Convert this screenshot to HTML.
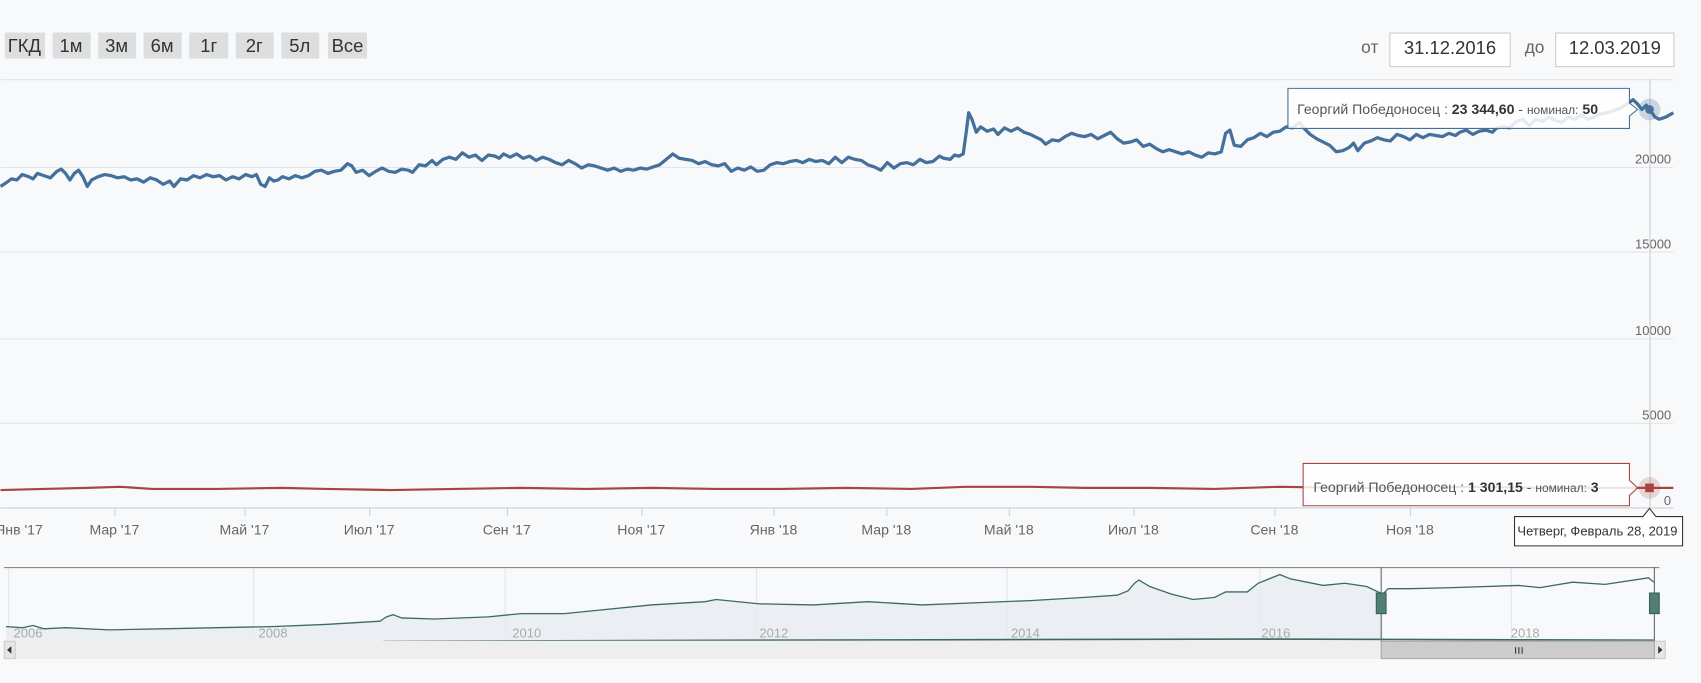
<!DOCTYPE html>
<html><head><meta charset="utf-8"><style>
html,body{margin:0;padding:0;background:#f8f9fb;}
svg{display:block;font-family:"Liberation Sans",sans-serif;}
</style></head><body>
<svg width="1701" height="683" viewBox="0 0 1568 630" xmlns="http://www.w3.org/2000/svg">
<rect width="1568" height="630" fill="#f8f9fb"/>
<g font-size="17" fill="#333" text-anchor="middle">
<rect x="4" y="30" width="37" height="24" fill="#dcdee0"/><text x="22" y="48">ГКД</text>
<rect x="48" y="30" width="35" height="24" fill="#dcdee0"/><text x="65" y="48">1м</text>
<rect x="90" y="30" width="35" height="24" fill="#dcdee0"/><text x="107" y="48">3м</text>
<rect x="132" y="30" width="35" height="24" fill="#dcdee0"/><text x="149" y="48">6м</text>
<rect x="174" y="30" width="36" height="24" fill="#dcdee0"/><text x="192" y="48">1г</text>
<rect x="217" y="30" width="35" height="24" fill="#dcdee0"/><text x="234" y="48">2г</text>
<rect x="259" y="30" width="35" height="24" fill="#dcdee0"/><text x="276" y="48">5л</text>
<rect x="302" y="30" width="36" height="24" fill="#dcdee0"/><text x="320" y="48">Все</text>
</g>
<text x="1263" y="49" font-size="16" fill="#666" text-anchor="middle">от</text>
<rect x="1281.5" y="30.5" width="111" height="31" fill="#fff" stroke="#ccc"/>
<text x="1337" y="50" font-size="17" fill="#333" text-anchor="middle">31.12.2016</text>
<text x="1415" y="49" font-size="16" fill="#666" text-anchor="middle">до</text>
<rect x="1434.5" y="30.5" width="109" height="31" fill="#fff" stroke="#ccc"/>
<text x="1489" y="50" font-size="17" fill="#333" text-anchor="middle">12.03.2019</text>
<g stroke="#e3e5e8" stroke-width="1">
<line x1="0" y1="73.5" x2="1543" y2="73.5"/>
<line x1="0" y1="154.5" x2="1543" y2="154.5"/>
<line x1="0" y1="232.5" x2="1543" y2="232.5"/>
<line x1="0" y1="312.5" x2="1543" y2="312.5"/>
<line x1="0" y1="390.5" x2="1543" y2="390.5"/>
</g>
<line x1="0" y1="468.5" x2="1543" y2="468.5" stroke="#ccd2d8"/>
<g font-size="12" fill="#666" text-anchor="end">
<text x="1541" y="151">20000</text><text x="1541" y="229">15000</text><text x="1541" y="309">10000</text><text x="1541" y="387">5000</text><text x="1541" y="466">0</text>
</g>
<g font-size="13" fill="#666" text-anchor="middle">
<text x="17" y="493">Янв '17</text><text x="105" y="493">Мар '17</text><text x="225" y="493">Май '17</text><text x="340" y="493">Июл '17</text><text x="467" y="493">Сен '17</text><text x="591" y="493">Ноя '17</text><text x="713" y="493">Янв '18</text><text x="817" y="493">Мар '18</text><text x="930" y="493">Май '18</text><text x="1045" y="493">Июл '18</text><text x="1175" y="493">Сен '18</text><text x="1300" y="493">Ноя '18</text>
</g>
<g stroke="#ccd2d8"><line x1="105.5" y1="469" x2="105.5" y2="476"/><line x1="225.5" y1="469" x2="225.5" y2="476"/><line x1="340.5" y1="469" x2="340.5" y2="476"/><line x1="467.5" y1="469" x2="467.5" y2="476"/><line x1="591.5" y1="469" x2="591.5" y2="476"/><line x1="713.5" y1="469" x2="713.5" y2="476"/><line x1="817.5" y1="469" x2="817.5" y2="476"/><line x1="930.5" y1="469" x2="930.5" y2="476"/><line x1="1045.5" y1="469" x2="1045.5" y2="476"/><line x1="1175.5" y1="469" x2="1175.5" y2="476"/><line x1="1300.5" y1="469" x2="1300.5" y2="476"/></g>
<line x1="1521.5" y1="73" x2="1521.5" y2="475" stroke="#ccc"/>
<path fill="none" stroke="#44709c" stroke-width="3" stroke-linejoin="round" d="M0 172L6 168L10 165L15 166L20 161L26 163L30 165L34 160L40 162L46 164L52 158L56 156L60 160L64 166L68 160L72 157L76 163L80 172L84 166L90 163L96 161L102 162L108 164L114 163L120 166L126 165L132 168L138 164L144 166L150 170L156 167L160 172L166 165L172 166L178 162L184 164L190 161L196 163L202 162L208 166L214 163L220 165L226 161L232 163L236 161L240 170L244 172L248 164L252 167L256 166L260 163L266 165L272 162L278 164L284 162L290 158L296 157L302 160L308 158L314 157L320 151L324 153L328 159L334 157L340 162L346 158L352 155L358 158L364 159L370 156L376 157L380 159L386 152L392 153L398 148L402 152L408 147L414 145L420 147L426 141L432 145L438 143L444 148L450 143L456 144L460 146L464 142L470 145L476 142L482 146L488 144L494 148L500 145L506 147L512 150L518 152L524 148L530 151L536 155L542 152L548 153L554 155L560 157L566 155L572 158L578 156L584 157L590 155L596 156L602 154L608 152L614 147L620 142L626 146L632 147L638 148L644 151L650 149L656 152L662 153L668 151L674 158L680 155L686 157L692 154L698 158L704 157L710 152L716 150L722 151L728 149L734 148L740 150L746 147L752 149L758 148L764 151L770 145L776 150L782 145L788 147L794 148L800 152L806 154L812 157L818 150L824 155L830 151L836 150L842 152L848 147L854 150L860 149L866 144L870 146L876 147L880 143L884 144L888 142L891 120L893 104L896 110L900 122L904 117L910 121L916 119L920 124L926 118L932 121L938 118L944 122L950 124L956 127L960 129L964 133L970 129L976 130L982 126L988 123L994 125L1000 126L1006 124L1012 128L1018 125L1024 122L1030 128L1036 132L1042 131L1048 129L1054 135L1060 133L1066 137L1072 140L1078 138L1084 140L1090 142L1096 140L1102 143L1108 145L1114 141L1120 142L1126 140L1130 123L1134 120L1138 134L1144 135L1150 129L1156 127L1162 123L1168 126L1174 122L1180 121L1186 117L1192 118L1198 113L1202 118L1208 124L1214 128L1220 131L1226 134L1232 140L1238 139L1244 136L1248 132L1252 139L1258 132L1264 130L1270 127L1276 129L1282 130L1288 124L1294 126L1300 129L1306 124L1312 127L1318 124L1324 125L1330 126L1336 123L1342 125L1346 122L1352 120L1358 124L1364 121L1370 120L1376 122L1380 118L1386 117L1392 118L1398 112L1404 110L1410 116L1416 110L1422 112L1428 108L1434 111L1440 113L1446 108L1452 110L1458 106L1464 110L1470 108L1476 105L1482 104L1488 102L1494 100L1500 96L1506 92L1510 96L1514 101L1518 97L1522 102L1526 108L1530 110L1536 108L1543 104"/>
<path fill="none" stroke="#a94442" stroke-width="2" d="M0 452L40 451L80 450L110 449L140 451L200 451L260 450L300 451L360 452L420 451L480 450L540 451L600 450L660 451L720 451L780 450L840 451L890 449L950 449L1000 450L1060 450L1120 451L1180 449L1240 450L1300 450L1360 449L1420 450L1480 450L1521 450L1543 450"/>
<circle cx="1521" cy="101" r="10" fill="#44709c" opacity="0.25"/><circle cx="1521" cy="101" r="4" fill="#44709c"/>
<circle cx="1521" cy="450" r="10" fill="#a94442" opacity="0.2"/><rect x="1517" y="446" width="8" height="8" fill="#a94442"/>
<path d="M1187.5 81.5H1502.5V95L1510 101L1502.5 107V118.5H1187.5Z" fill="#fff" fill-opacity="0.85" stroke="#44709c"/>
<text x="1196" y="105" font-size="13" fill="#555">Георгий Победоносец : <tspan font-weight="bold" fill="#333">23 344,60</tspan> - <tspan font-size="11">номинал:</tspan> <tspan font-weight="bold" fill="#333">50</tspan></text>
<path d="M1201.5 427.5H1502.5V443L1510 450L1502.5 457V466.5H1201.5Z" fill="#fff" fill-opacity="0.85" stroke="#a94442"/>
<text x="1211" y="454" font-size="13" fill="#555">Георгий Победоносец : <tspan font-weight="bold" fill="#333">1 301,15</tspan> - <tspan font-size="11">номинал:</tspan> <tspan font-weight="bold" fill="#333">3</tspan></text>
<path d="M1396.5 476.5H1515L1521 469L1527 476.5H1551.5V503.5H1396.5Z" fill="#fff" stroke="#333"/>
<text x="1473" y="494" font-size="12" fill="#333" text-anchor="middle">Четверг, Февраль 28, 2019</text>
<line x1="3" y1="523.5" x2="1530" y2="523.5" stroke="#888"/>
<g stroke="#e3e5e8"><line x1="7.5" y1="524" x2="7.5" y2="590"/><line x1="233.5" y1="524" x2="233.5" y2="590"/><line x1="465.5" y1="524" x2="465.5" y2="590"/><line x1="697.5" y1="524" x2="697.5" y2="590"/><line x1="928.5" y1="524" x2="928.5" y2="590"/><line x1="1161.5" y1="524" x2="1161.5" y2="590"/><line x1="1393.5" y1="524" x2="1393.5" y2="590"/></g>
<path fill="#e7ecf2" fill-opacity="0.8" d="M5 578L40 580L60 579L100 581L150 580L200 579L250 578L300 576L350 573L356 569L362 567L370 570L400 571L450 569L480 566L520 566L550 563L600 558L650 555L660 553L700 557L750 558L800 555L850 558L900 556L950 554L1000 551L1030 549L1040 545L1046 538L1050 535L1060 541L1080 548L1100 553L1120 551L1130 546L1150 546L1160 538L1180 530L1190 534L1220 540L1240 538L1260 541L1275 548L1275 591L5 591Z"/>
<path fill="none" stroke="#3c6a60" stroke-width="1.2" d="M5 578L20 579L30 577L40 580L60 579L100 581L150 580L200 579L250 578L300 576L350 573L356 569L362 567L370 570L400 571L450 569L480 566L520 566L550 563L600 558L650 555L660 553L700 557L750 558L800 555L850 558L900 556L950 554L1000 551L1030 549L1040 545L1046 538L1050 535L1060 541L1080 548L1100 553L1120 551L1130 546L1150 546L1160 538L1180 530L1190 534L1220 540L1240 538L1260 541L1275 548L1280 543L1300 543L1340 542L1400 540L1420 542L1450 537L1480 539L1520 533L1525 537"/>
<path d="M353 591.5L700 590.5L1161 589.5L1525 590.5" fill="none" stroke="#3c6a60" stroke-width="1.5"/>
<g font-size="12" fill="#aaa"><text x="12" y="588">2006</text><text x="238" y="588">2008</text><text x="472" y="588">2010</text><text x="700" y="588">2012</text><text x="932" y="588">2014</text><text x="1163" y="588">2016</text><text x="1393" y="588">2018</text></g>
<rect x="3" y="591" width="1532" height="17" fill="#eeeeee"/>
<rect x="3.5" y="591.5" width="10" height="16" fill="#e6e6e6" stroke="#ccc"/><path d="M10 596L6 599.5L10 603Z" fill="#333"/>
<rect x="1525.5" y="591.5" width="10" height="16" fill="#e6e6e6" stroke="#ccc"/><path d="M1529 596L1533 599.5L1529 603Z" fill="#333"/>
<rect x="1273.5" y="591.5" width="252" height="16" fill="#cccccc" stroke="#aaa"/>
<g stroke="#333"><line x1="1397.5" y1="597" x2="1397.5" y2="603"/><line x1="1400.5" y1="597" x2="1400.5" y2="603"/><line x1="1403.5" y1="597" x2="1403.5" y2="603"/></g>
<line x1="1273.5" y1="523" x2="1273.5" y2="591" stroke="#666"/><line x1="1525.5" y1="523" x2="1525.5" y2="591" stroke="#666"/>
<rect x="1269" y="547" width="9" height="19" fill="#4f7f75" stroke="#3a6058"/>
<rect x="1521" y="547" width="9" height="19" fill="#4f7f75" stroke="#3a6058"/>
</svg>
</body></html>
